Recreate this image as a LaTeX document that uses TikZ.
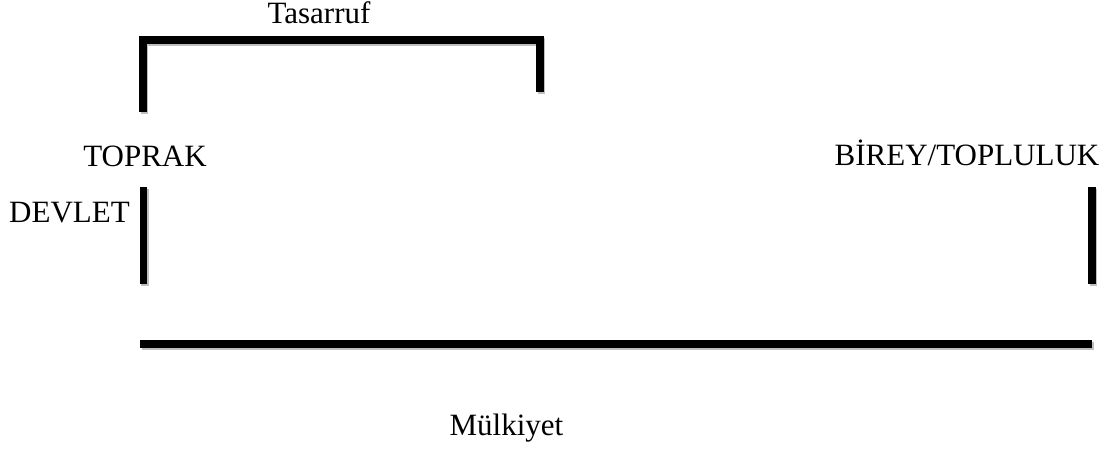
\documentclass[tikz,border=0pt]{standalone}
\usepackage{fontspec}
\setmainfont{Liberation Serif}
\begin{document}
\begin{tikzpicture}[x=1pt,y=-1pt,
  lbl/.style={inner sep=0pt,anchor=base,font=\fontsize{31}{37}\selectfont},
  bar/.style={line width=7.5pt,black},
  shade/.style={line width=7.5pt,black!25}]
\useasboundingbox (0,0) rectangle (1119,450);
% texts
\node[lbl] (tas) at (319,23) {Tasarruf};
\node[lbl] (top) at (145,166) {TOPRAK};
\node[lbl] (bir) at (967,165) {BİREY/TOPLULUK};
\node[lbl] (dev) at (69.5,222) {DEVLET};
\node[lbl] (mul) at (506.5,435) {Mülkiyet};
% shadows
\begin{scope}[shift={(1.5,2)}]
\draw[shade] (143,112) -- (143,40) -- (540,40) -- (540,92);
\draw[shade] (143.5,187) -- (143.5,284);
\draw[shade] (1092,187) -- (1092,284);
\draw[shade] (140,344) -- (1092,344);
\end{scope}
% bars
\draw[bar] (143,112) -- (143,40) -- (540,40) -- (540,92);
\draw[bar] (143.5,187) -- (143.5,284);
\draw[bar] (1092,187) -- (1092,284);
\draw[bar] (140,344) -- (1092,344);
\end{tikzpicture}
\end{document}
